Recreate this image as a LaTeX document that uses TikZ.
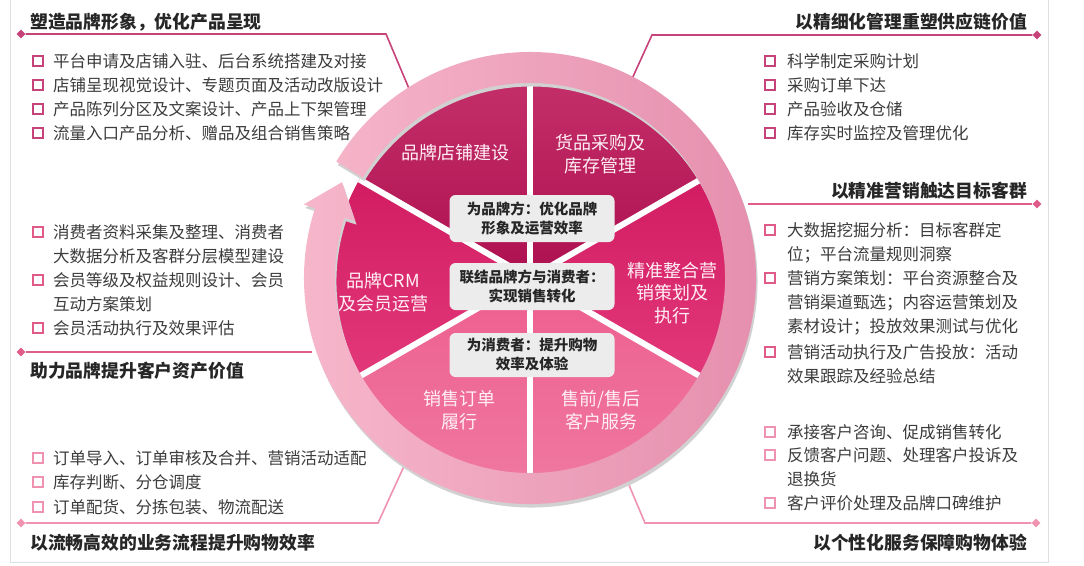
\documentclass[tikz,border=0pt]{standalone}
\usepackage{fontspec}
\setmainfont{Noto Sans CJK SC}
\usepackage{tikz}
\usetikzlibrary{shapes.geometric}
\definecolor{txt}{HTML}{3C3C3C}
\definecolor{hdc}{HTML}{262626}
\definecolor{segtxt}{HTML}{FFEFF5}
\definecolor{tagbg}{HTML}{ECECEC}
\definecolor{top}{HTML}{C8427A}
\definecolor{mid}{HTML}{E05A8A}
\definecolor{bot}{HTML}{EF93B0}
\definecolor{sAa}{HTML}{C6336C}
\definecolor{sAb}{HTML}{AE1050}
\definecolor{sBa}{HTML}{D21C62}
\definecolor{sBb}{HTML}{E2387A}
\definecolor{sCa}{HTML}{EE5E8F}
\definecolor{sCb}{HTML}{EF7AA1}
\definecolor{ringL}{HTML}{F7B8CC}
\definecolor{ringR}{HTML}{E48DAC}

\begin{document}
\begin{tikzpicture}[x=1pt, y=1pt,
  itm/.style={anchor=base west, inner sep=0pt, align=left, text=txt, font=\fontsize{16.5}{24.3}\selectfont},
  sqr/.style={draw=#1, line width=1.8pt, inner sep=0pt, minimum size=9.5pt},
  hd/.style={inner sep=0pt, text=hdc, font=\fontsize{17.8}{21}\selectfont\bfseries},
  dmd/.style={diamond, fill=#1, inner sep=0pt, minimum size=9pt},
  lead/.style={draw=#1, line width=1.6pt},
  seg/.style={text=segtxt, align=center, font=\fontsize{18}{22.5}\selectfont},
  tag/.style={fill=tagbg, rounded corners=6pt, minimum width=165pt, minimum height=#1, align=center, text=hdc, font=\fontsize{14.5}{19}\selectfont\bfseries}]
  \useasboundingbox (0,0) rectangle (1084,-565);
  \fill[white] (0,0) rectangle (1084,-565);
  \draw[black!12] (10,0) -- (10,-562) -- (1048,-562) -- (1048,0);

  % Headings
  \node[hd, anchor=west] (hTL) at (30,-22) {塑造品牌形象，优化产品呈现};
  \node[hd, anchor=east] (hTR) at (1027,-22) {以精细化管理重塑供应链价值};
  \node[hd, anchor=east] (hRM) at (1027,-191) {以精准营销触达目标客群};
  \node[hd, anchor=west] (hLM) at (30,-371) {助力品牌提升客户资产价值};
  \node[hd, anchor=west] (hLB) at (30,-543) {以流畅高效的业务流程提升购物效率};
  \node[hd, anchor=east] (hRB) at (1027,-543) {以个性化服务保障购物体验};

  % Lists (\n = extra lines, base sits on the last line)
  \foreach \y/\t [count=\i] in {67/平台申请及店铺入驻、后台系统搭建及对接, 91/店铺呈现视觉设计、专题页面及活动改版设计, 115/产品陈列分区及文案设计、产品上下架管理, 139/流量入口产品分析、赠品及组合销售策略}{
    \node[sqr=top] (tlb\i) at (38,-\y+6) {};
    \node[itm] (tl\i) at (53,-\y) {\t};
  }
  \foreach \y/\t [count=\i] in {67/科学制定采购计划, 91/采购订单下达, 115/产品验收及仓储, 139/库存实时监控及管理优化}{
    \node[sqr=top] (trb\i) at (770,-\y+6) {};
    \node[itm] (tr\i) at (787,-\y) {\t};
  }
  \foreach \y/\n/\t [count=\i] in {236/1/{大数据挖掘分析：目标客群定\\位；平台流量规则洞察}, 284/2/{营销方案策划：平台资源整合及\\营销渠道甄选；内容运营策划及\\素材设计；投放效果测试与优化}, 358/1/{营销活动执行及广告投放：活动\\效果跟踪及经验总结}}{
    \node[sqr=mid] (rmb\i) at (770,-\y+6) {};
    \node[itm] (rm\i) at (787,-\y-24.3*\n) {\t};
  }
  \foreach \y/\n/\t [count=\i] in {238/1/{消费者资料采集及整理、消费者\\大数据分析及客群分层模型建设}, 286/1/{会员等级及权益规则设计、会员\\互动方案策划}, 334/0/会员活动执行及效果评估}{
    \node[sqr=mid] (lmb\i) at (38,-\y+6) {};
    \node[itm] (lm\i) at (53,-\y-24.3*\n) {\t};
  }
  \foreach \y/\t [count=\i] in {464/订单导入、订单审核及合并、营销活动适配, 488/库存判断、分仓调度, 513/订单配货、分拣包装、物流配送}{
    \node[sqr=bot] (lbb\i) at (38,-\y+6) {};
    \node[itm] (lb\i) at (53,-\y) {\t};
  }
  \foreach \y/\n/\t [count=\i] in {438/0/承接客户咨询、促成销售转化, 461/1/{反馈客户问题、处理客户投诉及\\退换货}, 509/0/客户评价处理及品牌口碑维护}{
    \node[sqr=bot] (rbb\i) at (770,-\y+6) {};
    \node[itm] (rb\i) at (787,-\y-24.3*\n) {\t};
  }

  % Leaders
  \node[dmd=top] (dTL) at (21,-34) {};
  \node[dmd=top] (dTR) at (1037,-35) {};
  \node[dmd=mid] (dRM) at (1037,-204) {};
  \node[dmd=mid] (dLM) at (21,-352) {};
  \node[dmd=bot] (dLB) at (21,-523) {};
  \node[dmd=bot] (dRB) at (1036,-523) {};
  \coordinate (kTL) at (386,-34);
  \coordinate (eTL) at (410,-91);
  \coordinate (kTR) at (652,-35);
  \coordinate (eTR) at (631,-81);
  \coordinate (eRM) at (748,-204);
  \coordinate (eLM) at (312,-352);
  \coordinate (kLB) at (378,-523);
  \coordinate (eLB) at (405,-464);
  \coordinate (kRB) at (645,-523);
  \coordinate (eRB) at (626,-478);
  \draw[lead=top] (dTL) -- (kTL) -- (eTL);
  \draw[lead=top] (dTR) -- (kTR) -- (eTR);
  \draw[lead=mid] (dRM) -- (eRM);
  \draw[lead=mid] (dLM) -- (eLM);
  \draw[lead=bot] (dLB) -- (kLB) -- (eLB);
  \draw[lead=bot] (dRB) -- (kRB) -- (eRB);

  % Wheel
  \begin{scope}[shift={(530,-278)}]
    \shade[top color=sAa, bottom color=sAb] (0,0) -- (30:197) arc[start angle=30, end angle=150, radius=197] -- cycle;
    \shade[top color=sBa, bottom color=sBb] (0,0) -- (150:197) arc[start angle=150, end angle=210, radius=197] -- cycle;
    \shade[top color=sBa, bottom color=sBb] (0,0) -- (-30:197) arc[start angle=-30, end angle=30, radius=197] -- cycle;
    \shade[top color=sCa, bottom color=sCb] (0,0) -- (210:197) arc[start angle=210, end angle=330, radius=197] -- cycle;
    \foreach \a in {30,90,...,330}
      \draw[white, line width=6pt] (0,0) -- (\a:197);
    % Ring arrow
    \fill[black!18, shift={(1.5,-3.5)}] (149:226) arc[start angle=149, end angle=-198, radius=226] -- (-198:238) -- (-207:211) -- (-198:184) -- (-198:195) arc[start angle=-198, end angle=149, radius=195] -- cycle;
    \shade[left color=ringL, right color=ringR] (149:226) arc[start angle=149, end angle=-198, radius=226] -- (-198:238) -- (-207:211) -- (-198:184) -- (-198:195) arc[start angle=-198, end angle=149, radius=195] -- cycle;
  \end{scope}

  % Center tags
  \node[tag=47pt] (gA) at (532,-218.5) {为品牌方：优化品牌\\形象及运营效率};
  \node[tag=47pt] (gB) at (532,-286.5) {联结品牌方与消费者：\\实现销售转化};
  \node[tag=44pt] (gC) at (532,-355) {为消费者：提升购物\\效率及体验};

  % Sector labels
  \node[seg] (sA) at (455,-153) {品牌店铺建设};
  \node[seg] (sB) at (600,-154) {货品采购及\\库存管理};
  \node[seg] (sC) at (383,-292) {品牌CRM\\及会员运营};
  \node[seg] (sD) at (672,-293) {精准整合营\\销策划及\\执行};
  \node[seg] (sE) at (459,-410) {销售订单\\履行};
  \node[seg] (sF) at (601,-410) {售前/售后\\客户服务};
\end{tikzpicture}
\end{document}
